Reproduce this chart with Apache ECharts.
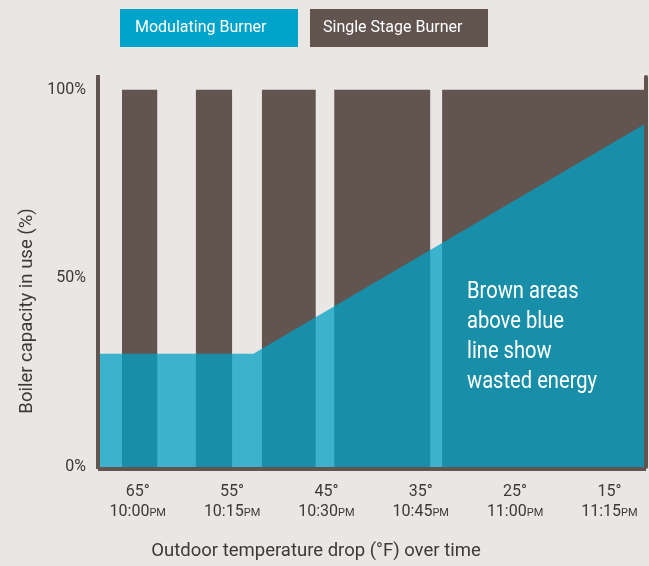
<!DOCTYPE html>
<html><head><meta charset="utf-8">
<script src="https://cdn.jsdelivr.net/npm/echarts@6/dist/echarts.min.js"></script>
<style>html,body{margin:0;padding:0;background:#e9e6e4;}#c{width:649px;height:566px;}</style>
</head><body><div id="c"></div>
<script>
// x values: minutes after 10:00 PM
const tickMinutes = [0, 15, 30, 45, 60, 75];
const tempLabels = ['65°', '55°', '45°', '35°', '25°', '15°'];
const timeLabels = ['10:00', '10:15', '10:30', '10:45', '11:00', '11:15'];
const yTicks = [0, 50, 100];
// Single stage burner: on-periods (start, end in minutes) at full capacity (%)
const singleStart = [-2.5, 9.25, 19.75, 31.25, 48.4];
const singleEnd = [3.1, 15, 28.3, 46.5, 80.5];
const singleCapacity = [100, 100, 100, 100, 100];
// Modulating burner: capacity (%) over time
const modMinutes = [-6, 18.4, 80.5];
const modCapacity = [30, 30, 90.8];
const note = ['Brown areas', 'above blue', 'line show', 'wasted energy'];

const BG = '#e9e6e4', BROWN = '#625550', CYAN = '#00a3c9', AXIS = '#625550', TXT = '#3a3a3a';
const FONT = "'Roboto',sans-serif";

const singleData = singleStart.map((s, i) => [s, singleEnd[i], singleCapacity[i]]);
const modData = modMinutes.map((m, i) => [m, modCapacity[i]]);

const chart = echarts.init(document.getElementById('c'), null, {renderer: 'canvas'});
chart.setOption({
  backgroundColor: BG,
  animation: false,
  textStyle: {fontFamily: FONT},
  legend: {
    left: 110, top: 4, itemGap: 7, itemWidth: 0, itemHeight: 38,
    icon: 'none', selectedMode: false,
    data: [
      {name: 'Modulating Burner', textStyle: {color: '#fff', backgroundColor: CYAN, padding: [10, 14, 10, 15], width: 149, height: 18, lineHeight: 18, fontSize: 16, fontFamily: FONT}},
      {name: 'Single Stage Burner', textStyle: {color: '#fff', backgroundColor: BROWN, padding: [10, 14, 10, 13], width: 151, height: 18, lineHeight: 18, fontSize: 16, fontFamily: FONT}}
    ]
  },
  grid: {left: 100, right: 5, top: 77, bottom: 97},
  xAxis: {
    type: 'value', min: -6, max: 80.5, offset: 2,
    axisLine: {show: true, onZero: false, lineStyle: {color: AXIS, width: 4, cap: 'square'}},
    axisTick: {show: false}, splitLine: {show: false},
    axisLabel: {
      customValues: tickMinutes, margin: 13,
      formatter: v => { const i = tickMinutes.indexOf(v); return '{a|' + tempLabels[i] + '}\n{b|' + timeLabels[i] + '}{c|PM}'; },
      rich: {
        a: {fontSize: 16, color: TXT, lineHeight: 20, fontFamily: FONT},
        b: {fontSize: 16, color: TXT, lineHeight: 20, fontFamily: FONT},
        c: {fontSize: 11, color: TXT, lineHeight: 20, fontFamily: FONT, verticalAlign: 'middle', padding: [3, 0, 0, 0]}
      }
    },
    name: 'Outdoor temperature drop (°F) over time', nameLocation: 'middle', nameGap: 73,
    nameTextStyle: {fontSize: 18.5, color: TXT, padding: [0, 112, 0, 0], fontFamily: FONT}
  },
  yAxis: [{
    type: 'value', min: 0, max: 103.4, offset: 2,
    axisLine: {show: true, onZero: false, lineStyle: {color: AXIS, width: 4, cap: 'square'}},
    axisTick: {show: false}, splitLine: {show: false},
    axisLabel: {customValues: yTicks, formatter: v => v + '%', fontSize: 16, color: TXT, margin: 12, fontFamily: FONT},
    name: 'Boiler capacity in use (%)', nameLocation: 'middle', nameGap: 58, nameRotate: 90,
    nameTextStyle: {fontSize: 18.5, color: TXT, padding: [0, 78, 0, 0], fontFamily: FONT}
  }, {
    type: 'value', min: 0, max: 103.4, position: 'right', offset: 2,
    axisLine: {show: true, onZero: false, lineStyle: {color: AXIS, width: 4}},
    axisTick: {show: false}, axisLabel: {show: false}, splitLine: {show: false}
  }],
  series: [
    {
      name: 'Single Stage Burner', type: 'custom', z: 2,
      encode: {x: [0, 1], y: 2},
      data: singleData,
      renderItem: (params, api) => {
        const s = api.coord([api.value(0), api.value(2)]);
        const e = api.coord([api.value(1), 0]);
        return {type: 'rect', shape: {x: s[0], y: s[1], width: e[0] - s[0], height: e[1] - s[1]}, style: {fill: BROWN}};
      }
    },
    {
      name: 'Modulating Burner', type: 'line', z: 3, symbol: 'none',
      data: modData,
      lineStyle: {width: 0},
      areaStyle: {color: 'rgba(0,161,198,0.75)', opacity: 1}
    }
  ],
  graphic: [{
    type: 'text', left: 467, top: 277, z: 10, scaleX: 0.876, originX: 0,
    style: {text: note.join('\n'), fill: '#fff', fontSize: 23, lineHeight: 30, fontFamily: FONT}
  }]
});
</script></body></html>
